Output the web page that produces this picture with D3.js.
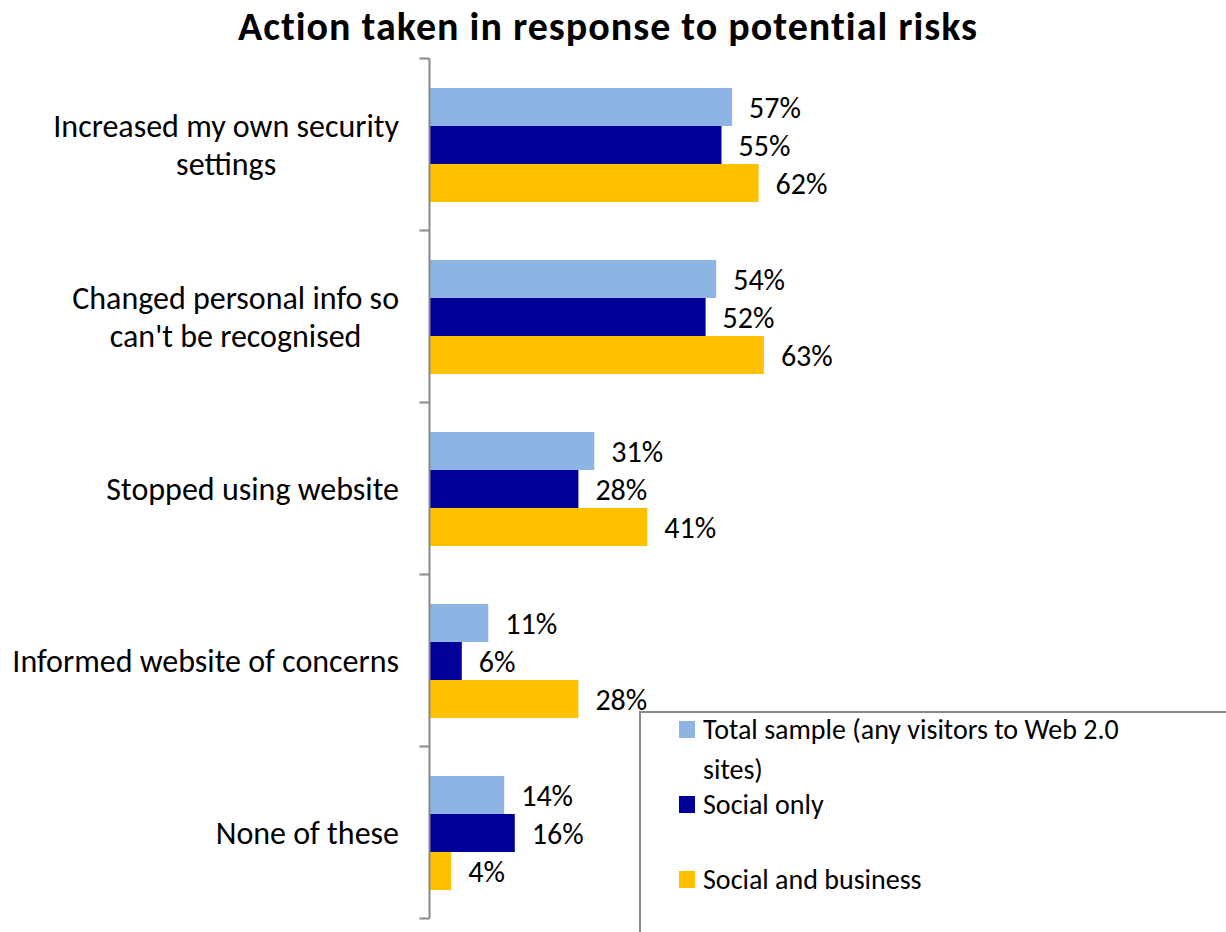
<!DOCTYPE html>
<html>
<head>
<meta charset="utf-8">
<script src="https://cdn.jsdelivr.net/npm/d3@7"></script>
<style>
  body { margin: 0; background: #fff; }
  svg { display: block; }
  text { font-family: "Carlito", "Lato", "Open Sans", sans-serif; fill: #000; }
</style>
</head>
<body>
<svg id="chart" width="1226" height="932"></svg>
<script>
// Categories (each label split into its display lines)
const categories = [
  ["Increased my own security", "settings"],
  ["Changed personal info so", "can't be recognised"],
  ["Stopped using website"],
  ["Informed website of concerns"],
  ["None of these"]
];
const seriesNames = ["Total sample (any visitors to Web 2.0 sites)", "Social only", "Social and business"];
const totalSample = [57, 54, 31, 11, 14];
const socialOnly = [55, 52, 28, 6, 16];
const socialBusiness = [62, 63, 41, 28, 4];
const colors = ["#8EB4E3", "#000099", "#FFC000"];

const series = [totalSample, socialOnly, socialBusiness];
const svg = d3.select("#chart");

// Title
svg.append("text")
  .attr("x", 608).attr("y", 40)
  .attr("text-anchor", "middle")
  .attr("font-size", 40).attr("font-weight", "bold")
  .attr("letter-spacing", 1)
  .text("Action taken in response to potential risks");

const x = d3.scaleLinear().domain([0, 100]).range([430, 960]);
const y = d3.scaleBand().domain(d3.range(categories.length)).range([58.5, 918.5]);
const ySub = d3.scaleBand().domain(d3.range(series.length)).range([29.5, 143.5]);

// Bars and value labels
const groups = svg.selectAll("g.cat").data(categories).join("g")
  .attr("class", "cat")
  .attr("transform", (d, i) => `translate(0,${y(i)})`);

series.forEach((vals, s) => {
  groups.append("rect")
    .attr("x", x(0))
    .attr("y", ySub(s))
    .attr("width", (d, i) => x(vals[i]) - x(0))
    .attr("height", ySub.bandwidth())
    .attr("fill", colors[s]);
  groups.append("text")
    .attr("x", (d, i) => x(vals[i]) + 17)
    .attr("y", ySub(s) + ySub.bandwidth() / 2)
    .attr("dy", "0.35em")
    .attr("font-size", 30)
    .text((d, i) => vals[i] + "%");
});

// Category axis on the left
const axisG = svg.append("g").attr("transform", `translate(${x(0) - 0.5},0)`);
axisG.append("path")
  .attr("d", `M0,${y.range()[0]}V${y.range()[1]}`)
  .attr("stroke", "#888").attr("stroke-width", 2).attr("fill", "none");
axisG.selectAll("line.tick")
  .data(d3.range(categories.length + 1))
  .join("line")
  .attr("x1", -10).attr("x2", 0)
  .attr("y1", i => y.range()[0] + i * y.step())
  .attr("y2", i => y.range()[0] + i * y.step())
  .attr("stroke", "#888").attr("stroke-width", 2);

// Category labels: block right-aligned to the axis, lines centred within it
const labelRight = 399;
groups.each(function(lines) {
  const g = d3.select(this);
  const lh = 38;
  const cy = y.bandwidth() / 2;
  const t = g.append("text")
    .attr("text-anchor", "middle")
    .attr("font-size", 32);
  const spans = lines.map((ln, k) => t.append("tspan")
    .attr("y", cy + (k - (lines.length - 1) / 2) * lh)
    .attr("dy", "0.35em")
    .text(ln));
  const maxW = d3.max(spans, sp => sp.node().getComputedTextLength());
  spans.forEach(sp => sp.attr("x", labelRight - maxW / 2));
});

// Legend
const lg = svg.append("g");
lg.append("rect")
  .attr("x", 640).attr("y", 712)
  .attr("width", 700).attr("height", 300)
  .attr("fill", "#fff").attr("stroke", "#888").attr("stroke-width", 2);
const legendRows = [
  { lines: ["Total sample (any visitors to Web 2.0", "sites)"], y: 729 },
  { lines: ["Social only"], y: 804 },
  { lines: ["Social and business"], y: 879 }
];
legendRows.forEach((r, s) => {
  lg.append("rect")
    .attr("x", 679).attr("y", r.y - 8)
    .attr("width", 16).attr("height", 17)
    .attr("fill", colors[s]);
  const t = lg.append("text").attr("font-size", 28);
  r.lines.forEach((ln, k) => {
    t.append("tspan").attr("x", 703).attr("y", r.y + k * 40).attr("dy", "0.35em").text(ln);
  });
});
</script>
</body>
</html>
